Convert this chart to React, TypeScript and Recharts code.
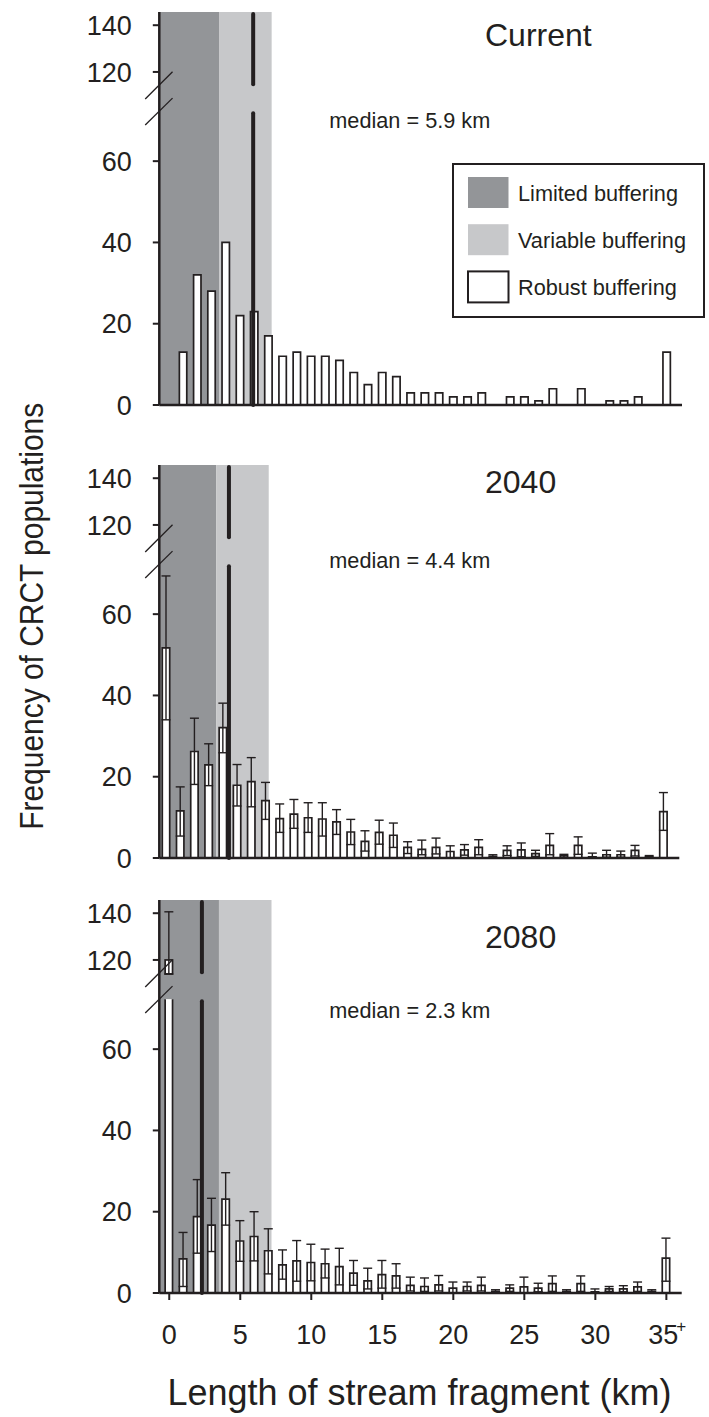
import {
  ComposedChart,
  Bar,
  XAxis,
  YAxis,
  ReferenceArea,
  ReferenceLine,
  ErrorBar,
  Legend,
} from 'recharts'

const INK = '#231f20'
const DARK = '#939598'
const LIGHT = '#c7c8ca'
const FONT = '"Liberation Sans", Arial, Helvetica, sans-serif'

// stream fragment length bins (km); the last bin is 35+
const lengthBins = [
  0, 1, 2, 3, 4, 5, 6, 7, 8, 9, 10, 11, 12, 13, 14, 15, 16, 17, 18, 19, 20, 21, 22, 23, 24, 25, 26,
  27, 28, 29, 30, 31, 32, 33, 34, 35,
]
const xTickValues = [0, 5, 10, 15, 20, 25, 30, 35]
const xTickLabels = ['0', '5', '10', '15', '20', '25', '30', '35+']
const yTickValues = [0, 20, 40, 60, 120, 140]

const panelTitles = ['Current', '2040', '2080']
const medians = [5.9, 4.4, 2.3]
const bufferLimits = [3.5, 7.2] // limited < 3.5 km, variable < 7.2 km
const legendLabels = ['Limited buffering', 'Variable buffering', 'Robust buffering']

const currentCounts = [
  0, 13, 32, 28, 40, 22, 23, 17, 12, 13, 12, 12, 11, 8, 5, 8, 7, 3, 3, 3, 2, 2, 3, 0, 2, 2, 1, 4, 0,
  4, 0, 1, 1, 2, 0, 13,
]

const counts2040 = [
  51.7, 11.6, 26.2, 22.9, 32.1, 17.9, 18.8, 14.1, 9.7, 10.8, 9.9, 9.6, 8.9, 6.4, 4.1, 6.3, 5.6, 2.6,
  2.1, 2.6, 1.6, 2.0, 2.6, 0.4, 1.9, 2.0, 1.1, 3.1, 0.5, 3.1, 0.3, 0.8, 0.8, 1.9, 0.3, 11.4,
]
const low2040 = [
  34, 5.4, 18.1, 17.8, 25.9, 12.8, 12.6, 9.5, 6.3, 7.3, 6.3, 5.4, 5.8, 3.3, 1.7, 3.4, 2.6, 1.1, 0.8,
  1.0, 0, 0.7, 0.8, 0, 0.6, 0.3, 0.4, 0.8, 0, 0.9, 0, 0.2, 0.2, 0.5, 0, 6.8,
]
const high2040 = [
  69.4, 17.5, 34.4, 28.1, 38.1, 23, 24.7, 18.6, 13.3, 14.4, 13.6, 13.6, 11.9, 9.5, 6.7, 9.3, 8.6, 4,
  4.4, 4.9, 3, 3.3, 4.5, 0.8, 3, 3.7, 1.9, 6, 0.9, 5.2, 1.2, 1.9, 1.7, 3.1, 0.6, 16.1,
]

const counts2080 = [
  120, 8.4, 18.8, 16.7, 23.1, 12.8, 13.9, 10.4, 6.9, 7.9, 7.5, 7.2, 6.5, 4.9, 3, 4.5, 4.2, 1.9, 1.6,
  2, 1.2, 1.6, 1.9, 0.4, 1.2, 1.5, 1.2, 2.3, 0.4, 2.3, 0.3, 1, 1, 1.5, 0.4, 8.6,
]
const low2080 = [
  114, 1.6, 9.8, 10.2, 16.7, 7.8, 7.9, 4.7, 3.4, 2.9, 3, 3.7, 2, 1.9, 1, 1.2, 1.2, 0.5, 0.4, 0.5, 0,
  0.5, 0.5, 0, 0.4, 0, 0.3, 0.4, 0, 0.4, 0, 0.4, 0.3, 0.4, 0, 2.9,
]
const high2080 = [
  140.6, 14.9, 27.9, 23.3, 29.6, 17.8, 20, 15.8, 10.6, 12.9, 12, 10.8, 11, 8, 6.1, 8, 7.2, 3.9, 3.7,
  4.3, 2.7, 2.7, 3.9, 0.8, 2, 3.9, 2.4, 4.2, 0.8, 4.2, 1, 1.6, 1.8, 2.7, 0.8, 13.5,
]

// broken y axis: 0..72.3 drawn 1:1, then a gap, then 114..146 compressed
const LOW_TOP = 72.3
const HIGH_BASE = 114
const HIGH_BASE_DISP = 78.5
const HIGH_RATIO = 0.575
const Y_TOP = 96.7

const toDisp = (v: number) =>
  v <= LOW_TOP ? v : v >= HIGH_BASE ? HIGH_BASE_DISP + (v - HIGH_BASE) * HIGH_RATIO : LOW_TOP

function buildRows(values: number[], lows?: number[], highs?: number[]) {
  return lengthBins.map((x, i) => {
    const v = values[i]
    const d = toDisp(v)
    const broken = v > LOW_TOP
    return {
      x,
      low: Math.min(d, LOW_TOP),
      gap: broken ? HIGH_BASE_DISP - LOW_TOP : 0,
      high: broken ? d - HIGH_BASE_DISP : 0,
      broken,
      err: lows && highs ? [d - toDisp(lows[i]), toDisp(highs[i]) - d] : undefined,
    }
  })
}

const panelRows = [
  buildRows(currentCounts),
  buildRows(counts2040, low2040, high2040),
  buildRows(counts2080, low2080, high2080),
]

const panelLayout = [
  { top: 0, right: 27, xDomain: [-0.7, 36.05], titleY: 45.7, medianY: 128.3 },
  { top: 452.5, right: 29.7, xDomain: [-0.5, 36.09], titleY: 493.3, medianY: 567.7 },
  { top: 888.3, right: 27.3, xDomain: [-0.7, 36.08], titleY: 948.3, medianY: 1018 },
]

const legendFills = [
  { fill: DARK, stroke: 'none' },
  { fill: LIGHT, stroke: 'none' },
  { fill: '#fff', stroke: INK },
]

const LowerBar = (props: any) => {
  const { x, y, width, height, payload } = props
  if (!height || height <= 0) return null
  const d = payload && payload.broken
    ? `M${x},${y} V${y + height} H${x + width} V${y}`
    : `M${x},${y + height} V${y} H${x + width} V${y + height}`
  return (
    <g>
      <rect x={x} y={y} width={width} height={height} fill="#fff" />
      <path d={d} fill="none" stroke={INK} strokeWidth={1.7} />
    </g>
  )
}

const UpperBar = (props: any) => {
  const { x, y, width, height } = props
  if (!height || height <= 0) return null
  return <rect x={x} y={y} width={width} height={height} fill="#fff" stroke={INK} strokeWidth={1.7} />
}

const NoShape = () => null

const XTick = (props: any) => {
  const { x, y, index } = props
  const label = xTickLabels[index] ?? String(props.payload.value)
  const sup = label.endsWith('+')
  const main = sup ? label.slice(0, -1) : label
  return (
    <g>
      <text x={sup ? x - 3 : x} y={y + 44} textAnchor="middle" fontSize={27} fill={INK}>
        {main}
      </text>
      {sup && (
        <text x={x + 10} y={y + 32} fontSize={17} fill={INK}>
          +
        </text>
      )}
    </g>
  )
}

const LegendBox = () => (
  <svg width={253} height={155} style={{ display: 'block' }}>
    <rect x={1} y={1} width={251} height={153} fill="#fff" stroke={INK} strokeWidth={2} />
    {legendLabels.map((label, i) => (
      <g key={label}>
        <rect
          x={16}
          y={14 + i * 47.2}
          width={40.5}
          height={31}
          fill={legendFills[i].fill}
          stroke={legendFills[i].stroke}
          strokeWidth={2}
        />
        <text x={66} y={38.4 + i * 46.65} fontSize={21.7} fill={INK}>
          {label}
        </text>
      </g>
    ))}
  </svg>
)

function Panel({ index }: { index: number }) {
  const layout = panelLayout[index]
  const rows = panelRows[index]
  const showLabels = index === 2
  const hasErrors = index > 0
  const xMin = layout.xDomain[0]
  const median = medians[index]
  const axisLine = { stroke: INK, strokeWidth: 2.5 }
  const tickLine = { stroke: INK, strokeWidth: 2 }

  return (
    <div style={{ position: 'absolute', left: 0, top: layout.top }}>
      <ComposedChart
        width={709}
        height={showLabels ? 480 : 420}
        data={rows}
        margin={{ top: 12, right: layout.right, bottom: 5, left: 0 }}
        barSize={7.4}
      >
        <ReferenceArea
          x1={xMin}
          x2={bufferLimits[0]}
          y1={0}
          y2={Y_TOP}
          fill={DARK}
          fillOpacity={1}
          stroke="none"
        />
        <ReferenceArea
          x1={bufferLimits[0]}
          x2={bufferLimits[1]}
          y1={0}
          y2={Y_TOP}
          fill={LIGHT}
          fillOpacity={1}
          stroke="none"
        />
        <XAxis
          type="number"
          dataKey="x"
          domain={layout.xDomain}
          allowDataOverflow
          ticks={xTickValues}
          interval={0}
          tickSize={7}
          tickMargin={0}
          axisLine={axisLine}
          tickLine={tickLine}
          tick={showLabels ? XTick : false}
          height={showLabels ? 70 : 10}
        />
        <YAxis
          type="number"
          domain={[0, Y_TOP]}
          allowDataOverflow
          ticks={yTickValues.map(toDisp)}
          interval={0}
          tickFormatter={(v: number) => {
            const k = yTickValues.findIndex((t) => Math.abs(toDisp(t) - v) < 1e-6)
            return k >= 0 ? String(yTickValues[k]) : ''
          }}
          width={159.3}
          tickSize={6.5}
          tickMargin={21}
          axisLine={axisLine}
          tickLine={tickLine}
          tick={{ fontSize: 27, fill: INK }}
        />
        <Bar dataKey="low" stackId="s" shape={LowerBar} isAnimationActive={false} />
        <Bar dataKey="gap" stackId="s" shape={NoShape} isAnimationActive={false} />
        <Bar dataKey="high" stackId="s" shape={UpperBar} isAnimationActive={false}>
          {hasErrors && (
            <ErrorBar
              dataKey="err"
              width={4.5}
              stroke={INK}
              strokeWidth={1.4}
              direction="y"
              isAnimationActive={false}
            />
          )}
        </Bar>
        <ReferenceLine
          segment={[
            { x: median, y: 0 },
            { x: median, y: 71.8 },
          ]}
          stroke={INK}
          strokeWidth={4}
          strokeLinecap="round"
        />
        <ReferenceLine
          segment={[
            { x: median, y: 78.9 },
            { x: median, y: 96.2 },
          ]}
          stroke={INK}
          strokeWidth={4}
          strokeLinecap="round"
        />
        <ReferenceLine
          segment={[
            { x: xMin - 0.99, y: 75.3 },
            { x: xMin + 0.93, y: 82 },
          ]}
          stroke={INK}
          strokeWidth={1.3}
          ifOverflow="visible"
        />
        <ReferenceLine
          segment={[
            { x: xMin - 0.99, y: 68.9 },
            { x: xMin + 0.93, y: 75.5 },
          ]}
          stroke={INK}
          strokeWidth={1.3}
          ifOverflow="visible"
        />
        {index === 0 && (
          <Legend
            layout="vertical"
            align="center"
            verticalAlign="middle"
            wrapperStyle={{ top: 163.3, left: 452.3, width: 253, height: 155 }}
            content={() => <LegendBox />}
          />
        )}
      </ComposedChart>
    </div>
  )
}

export default function App() {
  return (
    <div
      style={{
        position: 'relative',
        width: 709,
        height: 1417,
        background: '#fff',
        overflow: 'hidden',
        fontFamily: FONT,
        color: INK,
      }}
    >
      <style>{'body { margin: 0; }'}</style>
      {panelTitles.map((_, i) => (
        <Panel key={i} index={i} />
      ))}

      {/* titles, medians and axis titles */}
      <svg
        width={709}
        height={1417}
        style={{ position: 'absolute', left: 0, top: 0, pointerEvents: 'none' }}
        fontFamily={FONT}
      >
        {panelTitles.map((t, i) => (
          <g key={t}>
            <text x={485} y={panelLayout[i].titleY} fontSize={32} fill={INK}>
              {t}
            </text>
            <text x={329.3} y={panelLayout[i].medianY} fontSize={21.7} fill={INK}>
              {`median = ${medians[i]} km`}
            </text>
          </g>
        ))}
        <text
          transform="translate(43.3, 616.3) rotate(-90)"
          textAnchor="middle"
          fontSize={33.5}
          fill={INK}
          textLength={427}
          lengthAdjust="spacingAndGlyphs"
        >
          Frequency of CRCT populations
        </text>
        <text
          x={419.5}
          y={1405}
          textAnchor="middle"
          fontSize={37}
          fill={INK}
          textLength={504}
          lengthAdjust="spacingAndGlyphs"
        >
          Length of stream fragment (km)
        </text>
      </svg>
    </div>
  )
}
